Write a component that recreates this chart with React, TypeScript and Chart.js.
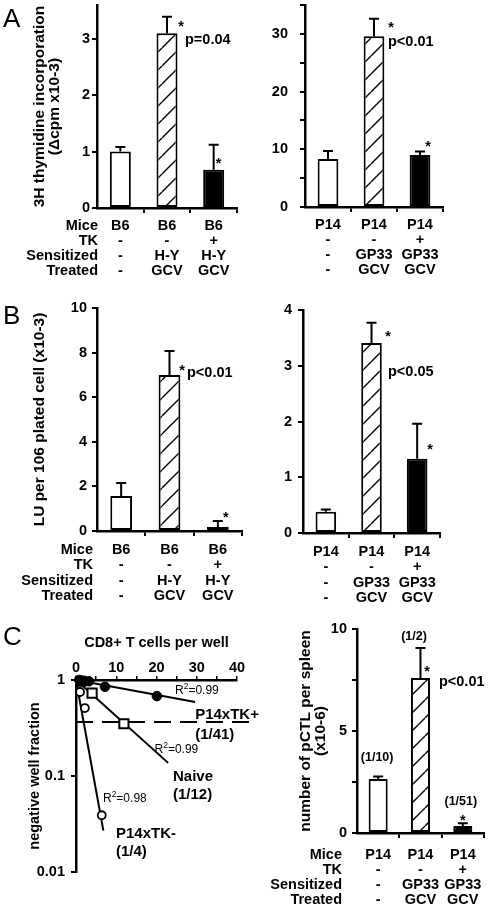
import React, { useEffect, useRef } from 'react';
import { Chart, registerables } from 'chart.js';

Chart.register(...registerables);

const FONT = '"Liberation Sans", Arial, Helvetica, sans-serif';
Chart.defaults.font.family = FONT;

// ---------- data ----------
const rowHeaders = ['Mice', 'TK', 'Sensitized', 'Treated'];
const b6Labels = [
  ['B6', '-', '-', '-'],
  ['B6', '-', 'H-Y', 'GCV'],
  ['B6', '+', 'H-Y', 'GCV'],
];
const p14Labels = [
  ['P14', '-', '-', '-'],
  ['P14', '-', 'GP33', 'GCV'],
  ['P14', '+', 'GP33', 'GCV'],
];

// A: 3H thymidine incorporation
const thymidineB6 = [1.0, 3.1, 0.68];
const thymidineB6Err = [0.08, 0.29, 0.44];
const thymidineP14 = [8.3, 29.6, 9.0];
const thymidineP14Err = [1.4, 3.0, 0.6];

// B: LU per 10^6 plated cells
const luB6 = [1.57, 7.0, 0.18];
const luB6Err = [0.58, 1.07, 0.27];
const luP14 = [0.38, 3.41, 1.33];
const luP14Err = [0.04, 0.36, 0.63];

// C right: pCTL per spleen
const pctlP14 = [2.65, 7.6, 0.34];
const pctlP14Err = [0.12, 1.47, 0.14];

// C left: limiting dilution
const tkPlusCells = [0.8, 1.7, 3.2, 7.2, 20.1];
const tkPlusFrac = [1.0, 0.98, 0.97, 0.85, 0.68];
const tkPlusFitCells = [0, 29.6];
const tkPlusFitFrac = [1, 0.59];
const naiveCells = [1.2, 4, 11.9];
const naiveFrac = [0.97, 0.73, 0.35];
const naiveFitCells = [0, 22.9];
const naiveFitFrac = [1, 0.137];
const tkMinusCells = [1.0, 2.2, 6.4];
const tkMinusFrac = [0.75, 0.51, 0.039];
const tkMinusFitCells = [0, 6.8];
const tkMinusFitFrac = [1, 0.027];
const thresholdCells = [0, 45];
const thresholdFrac = [0.365, 0.365];

const toXY = (xs: number[], ys: number[]) => xs.map((x, i) => ({ x, y: ys[i] }));

// ---------- helpers ----------
function makeHatch(): CanvasPattern | string {
  const s = 18;
  const c = document.createElement('canvas');
  c.width = s;
  c.height = s;
  const g = c.getContext('2d');
  if (!g) return '#fff';
  g.fillStyle = '#fff';
  g.fillRect(0, 0, s, s);
  g.strokeStyle = '#000';
  g.lineWidth = 1.4;
  g.beginPath();
  for (let k = -1; k <= 1; k++) {
    g.moveTo(k * s, s);
    g.lineTo(k * s + s, 0);
  }
  g.stroke();
  const p = g.createPattern(c, 'repeat');
  return p || '#fff';
}

type Note = { text: string; i: number; dx: number; v: number; align?: CanvasTextAlign; size?: number };

interface BarCfg {
  left: number; top: number; width: number; height: number;
  labels: string[][]; values: number[]; errors: number[];
  yMax: number; yTicks: number[]; yLabelled: number[];
  title?: string | string[];
  pad: { left: number; top: number; right: number };
  yW: number; xH: number; yTickPad: number; xTickPad: number; rowLH: number;
  rowHeaderX?: number; notes: Note[];
}

const TL = 5;

function BarPanel({ cfg }: { cfg: BarCfg }) {
  const ref = useRef<HTMLCanvasElement>(null);
  useEffect(() => {
    const canvas = ref.current!;
    const hatch = makeHatch();
    const n = cfg.labels.length;
    const overlay = {
      id: 'overlay',
      afterDatasetsDraw(chart: any) {
        const ctx = chart.ctx;
        const ys = chart.scales.y;
        const meta = chart.getDatasetMeta(0);
        ctx.save();
        ctx.strokeStyle = '#000';
        ctx.lineWidth = 2;
        meta.data.forEach((bar: any, i: number) => {
          const x = bar.x;
          const y0 = ys.getPixelForValue(cfg.values[i]);
          const y1 = ys.getPixelForValue(cfg.values[i] + cfg.errors[i]);
          ctx.beginPath();
          ctx.moveTo(x, y0);
          ctx.lineTo(x, y1);
          ctx.moveTo(x - 5, y1);
          ctx.lineTo(x + 5, y1);
          ctx.stroke();
        });
        ctx.restore();
      },
      afterDraw(chart: any) {
        const ctx = chart.ctx;
        const xs = chart.scales.x;
        const ys = chart.scales.y;
        ctx.save();
        ctx.fillStyle = '#000';
        ctx.textBaseline = 'middle';
        cfg.notes.forEach((nt) => {
          ctx.font = `bold ${nt.size || 14.5}px ${FONT}`;
          ctx.textAlign = nt.align || 'center';
          ctx.fillText(nt.text, xs.getPixelForValue(nt.i) + nt.dx, ys.getPixelForValue(nt.v));
        });
        if (cfg.rowHeaderX !== undefined) {
          ctx.font = `bold 14.5px ${FONT}`;
          ctx.textAlign = 'right';
          rowHeaders.forEach((t, i) => {
            ctx.fillText(t, cfg.rowHeaderX as number, xs.top + TL + cfg.xTickPad + cfg.rowLH / 2 + i * cfg.rowLH);
          });
        }
        ctx.restore();
      },
    };
    const chart = new Chart(canvas, {
      type: 'bar',
      data: {
        labels: cfg.labels as any,
        datasets: [
          {
            data: cfg.values,
            backgroundColor: ['#fff', hatch as any, '#000'],
            borderColor: '#000',
            borderWidth: 2,
            borderSkipped: false,
            barPercentage: 0.45,
            categoryPercentage: 1,
          },
        ],
      },
      options: {
        animation: false,
        responsive: false,
        devicePixelRatio: 1,
        events: [],
        layout: { padding: { left: cfg.pad.left, top: cfg.pad.top, right: cfg.pad.right, bottom: 0 } },
        plugins: { legend: { display: false }, tooltip: { enabled: false } },
        scales: {
          x: {
            type: 'category',
            offset: true,
            grid: {
              offset: true,
              drawOnChartArea: false,
              drawTicks: true,
              tickLength: TL,
              lineWidth: 2,
              color: (c: any) => (c.index === 0 || c.index === n ? 'rgba(0,0,0,0)' : '#000'),
            },
            border: { display: true, color: '#000', width: 2.5 },
            ticks: {
              color: '#000',
              padding: cfg.xTickPad,
              maxRotation: 0,
              autoSkip: false,
              font: { family: FONT, size: 14.5, weight: 'bold', lineHeight: cfg.rowLH / 14.5 },
            },
            afterFit: (s: any) => {
              s.height = cfg.xH;
            },
          },
          y: {
            min: 0,
            max: cfg.yMax,
            afterBuildTicks: (s: any) => {
              s.ticks = cfg.yTicks.map((v) => ({ value: v }));
            },
            grid: { drawOnChartArea: false, drawTicks: true, tickLength: TL, lineWidth: 2, color: '#000' },
            border: { display: true, color: '#000', width: 2.5 },
            ticks: {
              color: '#000',
              padding: cfg.yTickPad,
              font: { family: FONT, size: 14.5, weight: 'bold' },
              callback: (v: any) => (cfg.yLabelled.includes(Number(v)) ? String(v) : ''),
            },
            title: cfg.title
              ? {
                  display: true,
                  text: cfg.title,
                  color: '#000',
                  padding: 0,
                  font: { family: FONT, size: 15.5, weight: 'bold', lineHeight: 15 / 15.5 },
                }
              : { display: false },
            afterFit: (s: any) => {
              s.width = cfg.yW;
            },
          },
        },
      } as any,
      plugins: [overlay],
    });
    return () => chart.destroy();
  }, []);
  return (
    <canvas
      ref={ref}
      width={cfg.width}
      height={cfg.height}
      style={{ position: 'absolute', left: cfg.left, top: cfg.top, width: cfg.width, height: cfg.height }}
    />
  );
}

const panelA1: BarCfg = {
  left: 0, top: -6, width: 245, height: 291,
  labels: b6Labels, values: thymidineB6, errors: thymidineB6Err,
  yMax: 3.6, yTicks: [0, 1, 2, 3], yLabelled: [0, 1, 2, 3],
  title: ['3H thymidine incorporation', '(\u0394cpm x10-3)'],
  pad: { left: 32.5, top: 11, right: 8 }, yW: 64.5, xH: 77, yTickPad: 2, xTickPad: 5.5, rowLH: 15,
  rowHeaderX: 98,
  notes: [
    { text: '*', i: 1, dx: 14, v: 3.21 },
    { text: 'p=0.04', i: 1, dx: 18, v: 2.98, align: 'left' },
    { text: '*', i: 2, dx: 5, v: 0.78 },
  ],
};

const panelA2: BarCfg = {
  left: 245, top: -16, width: 246, height: 301,
  labels: p14Labels, values: thymidineP14, errors: thymidineP14Err,
  yMax: 35, yTicks: [0, 5, 10, 15, 20, 25, 30, 35], yLabelled: [0, 10, 20, 30],
  pad: { left: 10, top: 21, right: 48 }, yW: 50, xH: 78, yTickPad: 12, xTickPad: 5.5, rowLH: 15,
  notes: [
    { text: '*', i: 1, dx: 17, v: 31.0 },
    { text: 'p<0.01', i: 1, dx: 14, v: 28.6, align: 'left' },
    { text: '*', i: 2, dx: 8, v: 10.4 },
  ],
};

const panelB1: BarCfg = {
  left: 0, top: 290, width: 245, height: 320,
  labels: b6Labels, values: luB6, errors: luB6Err,
  yMax: 10, yTicks: [0, 2, 4, 6, 8, 10], yLabelled: [0, 2, 4, 6, 8, 10],
  title: 'LU per 106 plated cell (x10-3)',
  pad: { left: 32.5, top: 18, right: 3 }, yW: 64.5, xH: 79, yTickPad: 5, xTickPad: 6.5, rowLH: 15.3,
  rowHeaderX: 93,
  notes: [
    { text: '*', i: 1, dx: 12.5, v: 7.17 },
    { text: 'p<0.01', i: 1, dx: 17.5, v: 7.09, align: 'left' },
    { text: '*', i: 2, dx: 8, v: 0.58 },
  ],
};

const panelB2: BarCfg = {
  left: 245, top: 290, width: 246, height: 320,
  labels: p14Labels, values: luP14, errors: luP14Err,
  yMax: 4, yTicks: [0, 1, 2, 3, 4], yLabelled: [0, 1, 2, 3, 4],
  pad: { left: 10, top: 20, right: 51 }, yW: 48, xH: 77, yTickPad: 6, xTickPad: 6.5, rowLH: 15.3,
  notes: [
    { text: '*', i: 1, dx: 16.5, v: 3.52 },
    { text: 'p<0.05', i: 1, dx: 16.5, v: 2.89, align: 'left' },
    { text: '*', i: 2, dx: 13, v: 1.49 },
  ],
};

const panelC2: BarCfg = {
  left: 245, top: 610, width: 246, height: 299,
  labels: p14Labels, values: pctlP14, errors: pctlP14Err,
  yMax: 10, yTicks: [0, 2.5, 5, 7.5, 10], yLabelled: [0, 5, 10],
  title: ['number of pCTL per spleen', '(x10-6)'],
  pad: { left: 53.5, top: 19, right: 1 }, yW: 58.5, xH: 76, yTickPad: 5, xTickPad: 9.5, rowLH: 15,
  rowHeaderX: 97,
  notes: [
    { text: '(1/10)', i: 0, dx: -1, v: 3.68, size: 12.5 },
    { text: '(1/2)', i: 1, dx: -6.5, v: 9.61, size: 12.5 },
    { text: '*', i: 1, dx: 6.5, v: 7.89 },
    { text: 'p<0.01', i: 1, dx: 18.5, v: 7.4, align: 'left' },
    { text: '(1/51)', i: 2, dx: -2, v: 1.52, size: 12.5 },
    { text: '*', i: 2, dx: 0, v: 0.59 },
  ],
};

// ---------- limiting dilution panel ----------
const ldaLabels = [
  { text: 'P14xTK+', x: 29.6, y: 0.43 },
  { text: '(1/41)', x: 29.6, y: 0.267 },
  { text: 'Naive', x: 24.1, y: 0.098 },
  { text: '(1/12)', x: 24.1, y: 0.0632 },
  { text: 'P14xTK-', x: 9.94, y: 0.0249 },
  { text: '(1/4)', x: 9.94, y: 0.0162 },
];
const ldaR2 = [
  { val: '0.99', x: 24.6, y: 0.77 },
  { val: '0.99', x: 19.5, y: 0.187 },
  { val: '0.98', x: 6.7, y: 0.058 },
];

function LdaPanel() {
  const ref = useRef<HTMLCanvasElement>(null);
  useEffect(() => {
    const canvas = ref.current!;
    const overlay = {
      id: 'ldaText',
      afterDraw(chart: any) {
        const ctx = chart.ctx;
        const xs = chart.scales.x;
        const ys = chart.scales.y;
        ctx.save();
        ctx.fillStyle = '#000';
        ctx.textBaseline = 'middle';
        ctx.textAlign = 'left';
        ctx.font = `bold 15px ${FONT}`;
        ldaLabels.forEach((l) => ctx.fillText(l.text, xs.getPixelForValue(l.x), ys.getPixelForValue(l.y)));
        ldaR2.forEach((r) => {
          const x = xs.getPixelForValue(r.x);
          const y = ys.getPixelForValue(r.y);
          ctx.font = `12px ${FONT}`;
          ctx.fillText('R', x, y);
          let w = ctx.measureText('R').width;
          ctx.font = `8.5px ${FONT}`;
          ctx.fillText('2', x + w, y - 4);
          w += ctx.measureText('2').width;
          ctx.font = `12px ${FONT}`;
          ctx.fillText('=' + r.val, x + w, y);
        });
        ctx.restore();
      },
    };
    const line = (d: any[], extra: any = {}) => ({
      data: d,
      showLine: true,
      borderColor: '#000',
      borderWidth: 2,
      pointRadius: 0,
      clip: false,
      ...extra,
    });
    const chart = new Chart(canvas, {
      type: 'scatter',
      data: {
        datasets: [
          {
            data: toXY(tkPlusCells, tkPlusFrac),
            pointStyle: 'circle',
            pointRadius: 4.8,
            backgroundColor: '#000',
            borderColor: '#000',
            clip: false,
          },
          {
            data: toXY(naiveCells, naiveFrac),
            pointStyle: 'rect',
            pointRadius: 6.5,
            backgroundColor: '#fff',
            borderColor: '#000',
            pointBorderWidth: 2,
            clip: false,
          },
          {
            data: toXY(tkMinusCells, tkMinusFrac),
            pointStyle: 'circle',
            pointRadius: 4,
            backgroundColor: '#fff',
            borderColor: '#000',
            pointBorderWidth: 1.8,
            clip: false,
          },
          line(toXY(tkPlusFitCells, tkPlusFitFrac)),
          line(toXY(naiveFitCells, naiveFitFrac)),
          line(toXY(tkMinusFitCells, tkMinusFitFrac)),
          line(toXY(thresholdCells, thresholdFrac), { borderDash: [17, 9] }),
        ],
      },
      options: {
        animation: false,
        responsive: false,
        devicePixelRatio: 1,
        events: [],
        layout: { padding: { left: 27.5, top: 10, right: 33, bottom: 37 } },
        plugins: { legend: { display: false }, tooltip: { enabled: false } },
        scales: {
          x: {
            type: 'linear',
            position: 'top',
            min: 0,
            max: 40,
            afterBuildTicks: (s: any) => {
              s.ticks = [0, 5, 10, 15, 20, 25, 30, 35, 40].map((v) => ({ value: v }));
            },
            grid: { drawOnChartArea: false, drawTicks: true, tickLength: 4, lineWidth: 1.5, color: '#000' },
            border: { display: true, color: '#000', width: 2.5 },
            ticks: {
              color: '#000',
              padding: 0,
              maxRotation: 0,
              font: { family: FONT, size: 14.5, weight: 'bold', lineHeight: 1.1 },
              callback: (v: any) => (Number(v) % 10 === 0 ? String(v) : ''),
            },
            title: {
              display: true,
              text: 'CD8+ T cells per well',
              color: '#000',
              padding: { top: 15, bottom: 0 },
              font: { family: FONT, size: 14.5, weight: 'bold', lineHeight: 1.1 },
            },
            afterFit: (s: any) => {
              s.height = 60;
            },
          },
          y: {
            type: 'logarithmic',
            min: 0.01,
            max: 1,
            afterBuildTicks: (s: any) => {
              s.ticks = [0.01, 0.1, 1].map((v) => ({ value: v }));
            },
            grid: { drawOnChartArea: false, drawTicks: true, tickLength: 5, lineWidth: 2, color: '#000' },
            border: { display: true, color: '#000', width: 2.5 },
            ticks: {
              color: '#000',
              padding: 6,
              font: { family: FONT, size: 14.5, weight: 'bold' },
              callback: (v: any) => String(v),
            },
            title: {
              display: true,
              text: 'negative well fraction',
              color: '#000',
              padding: 0,
              font: { family: FONT, size: 14.5, weight: 'bold', lineHeight: 15 / 14.5 },
            },
            afterFit: (s: any) => {
              s.width = 48.5;
            },
          },
        },
      } as any,
      plugins: [overlay],
    });
    return () => chart.destroy();
  }, []);
  return (
    <canvas
      ref={ref}
      width={270}
      height={299}
      style={{ position: 'absolute', left: 0, top: 610, width: 270, height: 299 }}
    />
  );
}

const letterStyle = (left: number, top: number): React.CSSProperties => ({
  position: 'absolute',
  left,
  top,
  font: `26px ${FONT}`,
  lineHeight: '26px',
  color: '#000',
});

export default function App() {
  return (
    <div
      style={{
        position: 'absolute',
        left: 0,
        top: 0,
        width: 491,
        height: 909,
        overflow: 'hidden',
        background: '#fff',
      }}
    >
      <BarPanel cfg={panelA1} />
      <BarPanel cfg={panelA2} />
      <BarPanel cfg={panelB1} />
      <BarPanel cfg={panelB2} />
      <LdaPanel />
      <BarPanel cfg={panelC2} />
      <div style={letterStyle(3, 4.6)}>A</div>
      <div style={letterStyle(3, 301.6)}>B</div>
      <div style={letterStyle(3, 623)}>C</div>
    </div>
  );
}
